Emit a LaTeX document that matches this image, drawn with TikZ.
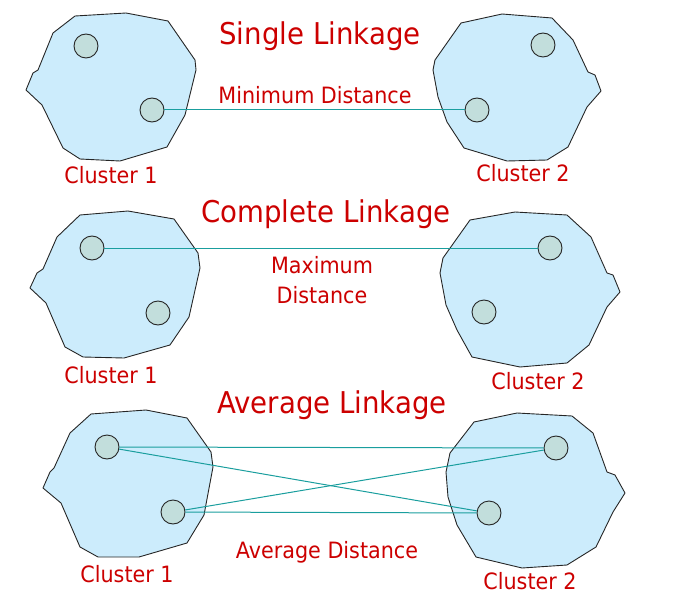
\documentclass[tikz,border=0pt]{standalone}
\usepackage{fontspec}
\setmainfont{DejaVu Sans}[FakeStretch=0.92]
\definecolor{clfill}{HTML}{CCECFC}
\definecolor{ptfill}{HTML}{C2DEDC}
\definecolor{linkc}{HTML}{1A9E9E}
\definecolor{txtc}{HTML}{CC0000}
\begin{document}
\begin{tikzpicture}[x=1pt,y=-1pt,
  clshape/.style={draw=black!85,fill=clfill,line width=0.9pt,line join=round},
  pt/.style={circle,draw=black!85,fill=ptfill,line width=0.9pt,minimum size=24pt,inner sep=0pt},
  link/.style={draw=linkc,line width=1pt},
  ttl/.style={text=txtc,font=\fontsize{30}{32}\selectfont,anchor=base,inner sep=0pt},
  lbl/.style={text=txtc,font=\fontsize{22.5}{24}\selectfont,anchor=base,inner sep=0pt}]
\useasboundingbox (0,0) rectangle (680,615);
% ---- Single linkage ----
\draw[clshape] (75,16) -- (126,13) -- (168,21) -- (195,60) -- (196,70) -- (185,115) -- (167,147) -- (120,161) -- (80,159) -- (63,148) -- (42,105) -- (26,90) -- (33,73) -- (38,70) -- (53,33) -- cycle;
\draw[clshape] (461,23) -- (502,14) -- (552,18) -- (573,40) -- (588,72) -- (595,75) -- (601,91) -- (587,107) -- (568,147) -- (547,160) -- (507,161) -- (464,148) -- (447,122) -- (438,97) -- (433,70) -- (435,60) -- cycle;
\node[pt] (s1a) at (86,46) {};
\node[pt] (s1b) at (152,110) {};
\node[pt] (s2a) at (477,110) {};
\node[pt] (s2b) at (543,45) {};
\draw[link] (s1b) -- (s2a);
\node[ttl] (t1) at (320,45) {Single Linkage};
\node[lbl] (d1) at (315,104) {Minimum Distance};
\node[lbl] (s1l) at (111,183) {Cluster 1};
\node[lbl] (s2l) at (523,182) {Cluster 2};
% ---- Complete linkage ----
\draw[clshape] (80,215) -- (128,211) -- (174,219) -- (198,253) -- (200,268) -- (189,317) -- (170,345) -- (124,358) -- (83,357) -- (65,347) -- (46,303) -- (30,288) -- (37,273) -- (43,269) -- (57,237) -- cycle;
\draw[clshape] (470,220) -- (515,212) -- (567,215) -- (591,237) -- (607,273) -- (613,275) -- (620,292) -- (607,307) -- (589,345) -- (567,363) -- (520,367) -- (472,357) -- (457,330) -- (446,305) -- (440,273) -- (443,258) -- cycle;
\node[pt] (m1a) at (92,248) {};
\node[pt] (m1b) at (158,313) {};
\node[pt] (m2a) at (550,248) {};
\node[pt] (m2b) at (484,312) {};
\draw[link] (m1a) -- (m2a);
\node[ttl] (t2) at (326,222) {Complete Linkage};
\node[lbl] (d2a) at (322,273) {Maximum};
\node[lbl] (d2b) at (322,303) {Distance};
\node[lbl] (m1l) at (111,383) {Cluster 1};
\node[lbl] (m2l) at (538,389) {Cluster 2};
% ---- Average linkage ----
\draw[clshape] (91,414) -- (146,410) -- (187,418) -- (211,452) -- (213,467) -- (204,515) -- (187,543) -- (139,557) -- (98,557) -- (80,547) -- (61,503) -- (43,488) -- (50,472) -- (54,468) -- (70,433) -- cycle;
\draw[clshape] (474,422) -- (517,413) -- (572,416) -- (593,433) -- (607,472) -- (615,475) -- (625,493) -- (613,512) -- (596,547) -- (567,565) -- (522,568) -- (476,557) -- (457,525) -- (448,497) -- (446,472) -- (450,453) -- cycle;
\node[pt] (b1a) at (107,447) {};
\node[pt] (b1b) at (173,512) {};
\node[pt] (b2a) at (556,448) {};
\node[pt] (b2b) at (489,513) {};
\draw[link] (b1a) -- (b2a);
\draw[link] (b1a) -- (b2b);
\draw[link] (b1b) -- (b2a);
\draw[link] (b1b) -- (b2b);
\node[ttl] (t3) at (332,413) {Average Linkage};
\node[lbl] (d3) at (327,558) {Average Distance};
\node[lbl] (b1l) at (127,582) {Cluster 1};
\node[lbl] (b2l) at (530,589) {Cluster 2};
\end{tikzpicture}
\end{document}
